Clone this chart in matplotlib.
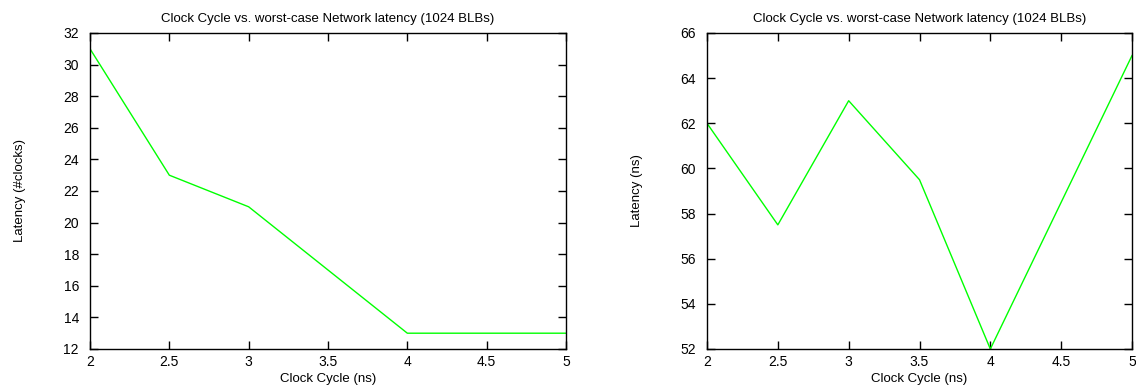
import matplotlib
matplotlib.use("Agg")
import matplotlib.pyplot as plt

# data
clock_ns = [2, 2.5, 3, 3.5, 4, 5]
latency_clocks = [31, 23, 21, 17, 13, 13]
latency_ns = [62, 57.5, 63, 59.5, 52, 65]

title = "Clock Cycle vs. worst-case Network latency (1024 BLBs)"
x_ticks = [2, 2.5, 3, 3.5, 4, 4.5, 5]
x_ticklabels = ["2", "2.5", "3", "3.5", "4", "4.5", "5"]

plt.rcParams["font.family"] = ["Liberation Sans", "DejaVu Sans"]

fig = plt.figure(figsize=(11.36, 3.86), dpi=100)
W, H = 1136, 386


def make_axes(left, right, top, bottom):
    return fig.add_axes([left / W, 1 - bottom / H, (right - left) / W, (bottom - top) / H])


def style(ax, ylabel, yticks, ylim):
    ax.set_xlim(2, 5)
    ax.set_ylim(*ylim)
    ax.set_xticks(x_ticks)
    ax.set_xticklabels(x_ticklabels)
    ax.set_yticks(yticks)
    ax.tick_params(direction="in", top=True, right=True, length=6, width=1,
                   labelsize=10)
    ax.tick_params(axis="x", pad=4)
    ax.tick_params(axis="y", pad=8)
    ax.set_title(title, fontsize=9.5, pad=8)
    ax.set_xlabel("Clock Cycle (ns)", fontsize=9.5, labelpad=3)
    ax.set_ylabel(ylabel, fontsize=9.5, labelpad=27)
    for s in ax.spines.values():
        s.set_linewidth(1)


ax1 = make_axes(90, 566, 33, 349)
ax1.plot(clock_ns, latency_clocks, color="#00ff00", lw=1)
style(ax1, "Latency (#clocks)", range(12, 33, 2), (12, 32))

ax2 = make_axes(707, 1132, 33, 349)
ax2.plot(clock_ns, latency_ns, color="#00ff00", lw=1)
style(ax2, "Latency (ns)", range(52, 67, 2), (52, 66))

fig.savefig("out.png", dpi=100)
